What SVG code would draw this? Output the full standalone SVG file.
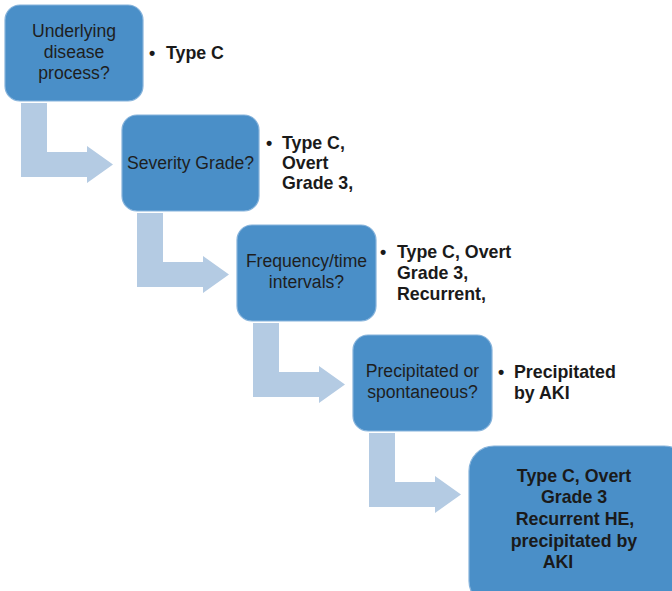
<svg xmlns="http://www.w3.org/2000/svg" width="672" height="591" viewBox="0 0 672 591">
<defs>
<style>
.box{fill:#4a8fc8;stroke:#86b3db;stroke-width:1.2}
.arr{fill:#b4cbe3}
.bt{font-family:"Liberation Sans",Arial,sans-serif;font-size:17.6px;fill:#1e1e1e;text-anchor:middle}
.bl{font-family:"Liberation Sans",Arial,sans-serif;font-size:17.8px;font-weight:bold;fill:#1a1a1a}
.b5{font-family:"Liberation Sans",Arial,sans-serif;font-size:17.8px;font-weight:bold;fill:#1a1a1a;text-anchor:middle}
</style>
<path id="arrowShape" d="M21,103 H47 V152 H87 V146 L113,164.5 L87,183 V177 H21 Z"/>
</defs>
<rect width="672" height="591" fill="#ffffff"/>
<g id="connectors">
<use href="#arrowShape" class="arr"/>
<use href="#arrowShape" class="arr" transform="translate(116,110)"/>
<use href="#arrowShape" class="arr" transform="translate(232,220)"/>
<use href="#arrowShape" class="arr" transform="translate(348,330)"/>
</g>
<g id="node1">
<rect class="box" x="5" y="5" width="138" height="96" rx="15"/>
<text class="bt" x="74" y="37">Underlying</text>
<text class="bt" x="74" y="58">disease</text>
<text class="bt" x="74" y="79">process?</text>
<text class="bl" x="149" y="59">•</text>
<text class="bl" x="166" y="59">Type C</text>
</g>
<g id="node2">
<rect class="box" x="122" y="115" width="137" height="96" rx="15"/>
<text class="bt" x="190.5" y="169">Severity Grade?</text>
<text class="bl" x="266" y="149">•</text>
<text class="bl" x="282" y="149">Type C,</text>
<text class="bl" x="282" y="169">Overt</text>
<text class="bl" x="282" y="189">Grade 3,</text>
</g>
<g id="node3">
<rect class="box" x="237" y="225" width="139" height="96" rx="15"/>
<text class="bt" x="306.5" y="267">Frequency/time</text>
<text class="bt" x="306.5" y="288">intervals?</text>
<text class="bl" x="380" y="258">•</text>
<text class="bl" x="397" y="258">Type C, Overt</text>
<text class="bl" x="397" y="279">Grade 3,</text>
<text class="bl" x="397" y="300">Recurrent,</text>
</g>
<g id="node4">
<rect class="box" x="353" y="335" width="139" height="96" rx="15"/>
<text class="bt" x="422.5" y="377">Precipitated or</text>
<text class="bt" x="422.5" y="398">spontaneous?</text>
<text class="bl" x="498" y="378">•</text>
<text class="bl" x="514" y="378">Precipitated</text>
<text class="bl" x="514" y="399">by AKI</text>
</g>
<g id="node5">
<rect class="box" x="469" y="446" width="220" height="160" rx="25"/>
<text class="b5" x="574" y="482">Type C, Overt</text>
<text class="b5" x="574" y="503">Grade 3</text>
<text class="b5" x="575" y="525">Recurrent HE,</text>
<text class="b5" x="574" y="547">precipitated by</text>
<text class="b5" x="558" y="568">AKI</text>
</g>
</svg>
